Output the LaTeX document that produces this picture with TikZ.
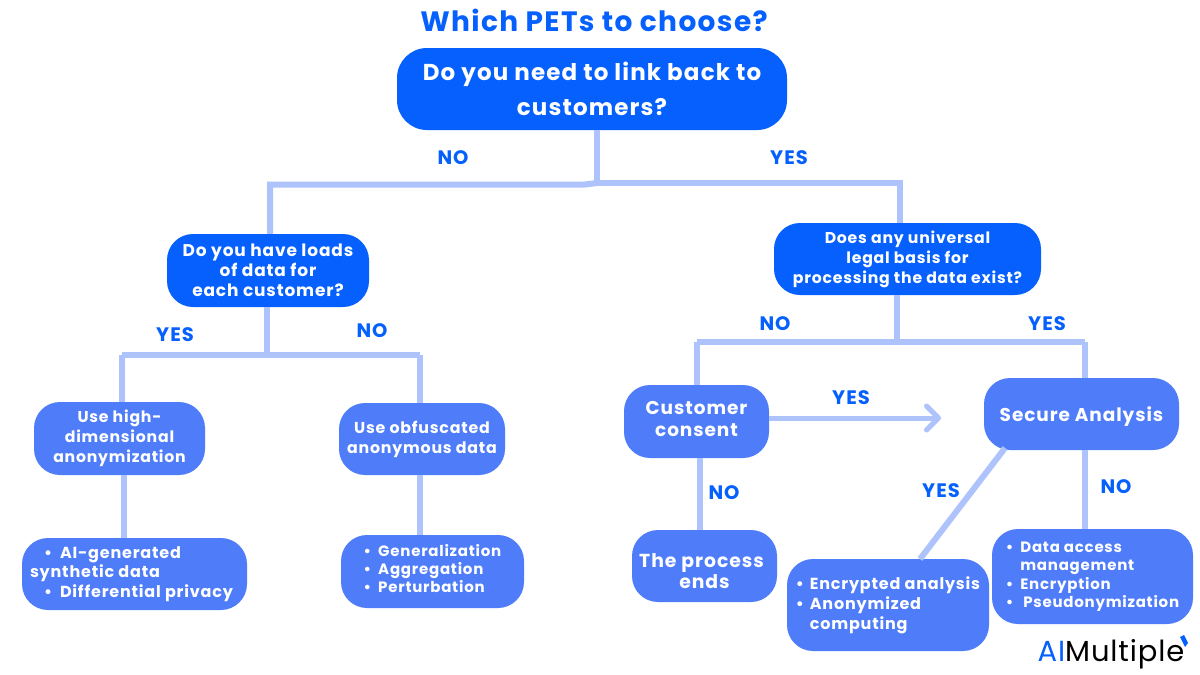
\documentclass[tikz,border=0pt]{standalone}
\usepackage{fontspec}
\setmainfont{Poppins}[LetterSpace=5]
\newfontfamily\logofont{Poppins}[LetterSpace=3]
\usetikzlibrary{arrows.meta}
\definecolor{deep}{HTML}{0560FD}
\definecolor{mid}{HTML}{4F7DFA}
\definecolor{wire}{HTML}{AEC3FB}
\tikzset{
  x=1pt,y=-1pt,
  box/.style={fill=#1,text=white,font=\bfseries\fontsize{16}{20}\selectfont,inner sep=0pt,align=center,rounded corners=26pt},
  wireline/.style={draw=wire,line width=6pt},
  ans/.style={text=deep,font=\bfseries\fontsize{19.5}{22}\selectfont,inner sep=0pt},
}
\newcommand{\tup}[1]{\rule[-#1pt]{0pt}{0pt}}
\newcommand{\tdn}[1]{\rule{0pt}{#1pt}}
\begin{document}
\begin{tikzpicture}
\useasboundingbox (0,0) rectangle (1200,675);
\fill[white] (0,0) rectangle (1200,675);
\coordinate (j1) at (597,183);
\coordinate (j1k) at (585,184.5);
\coordinate (j1l) at (270,184.5);
\coordinate (j1r) at (900,183);
\coordinate (j2) at (267,354.5);
\coordinate (j2l) at (122,354.5);
\coordinate (j2b) at (124,500);
\coordinate (j2r) at (420,354.5);
\coordinate (j3) at (897,342);
\coordinate (j3l) at (697,342);
\coordinate (j3r) at (1085,342);
\coordinate (tip) at (941,418);
\coordinate (s1) at (1005,448);
\coordinate (e1) at (920,559);
% boxes
\node[box=deep,minimum width=390pt,minimum height=82pt,rounded corners=30pt,font=\bfseries\fontsize{23}{35}\selectfont] (root) at (592,89) {Do you need to link back to\\customers?};
\node[box=deep,minimum width=202pt,minimum height=73pt,font=\bfseries\fontsize{17}{20}\selectfont] (left) at (268,270.5) {Do you have loads\\of data for\\each customer?};
\node[box=deep,minimum width=267pt,minimum height=72pt,font=\bfseries\fontsize{15.7}{20}\selectfont] (right) at (907.5,259) {Does any universal\\legal basis for\\processing the data exist?};
\node[box=mid,minimum width=171pt,minimum height=73pt,font=\bfseries\fontsize{15.7}{20}\selectfont] (high) at (119.5,438.5) {Use high-\\dimensional\\anonymization};
\node[box=mid,minimum width=166pt,minimum height=72pt,font=\bfseries\fontsize{15.8}{20}\selectfont] (obf) at (422,439) {Use obfuscated\\anonymous data};
\node[box=mid,minimum width=145pt,minimum height=73pt,font=\bfseries\fontsize{18.5}{22}\selectfont] (consent) at (696.5,421.5) {Customer\\consent\tup{6}};
\node[box=mid,minimum width=195pt,minimum height=72pt,font=\bfseries\fontsize{18.5}{22}\selectfont] (secure) at (1081.5,414) {\tdn{19}Secure Analysis};
\node[box=mid,minimum width=145pt,minimum height=72pt,font=\bfseries\fontsize{18.8}{21}\selectfont] (ends) at (704.5,566) {\tdn{24}The process\hspace*{6pt}\\ends};
\node[box=mid,minimum width=225pt,minimum height=72pt,align=left,font=\bfseries\fontsize{16}{19.5}\selectfont] (synth) at (134.5,574) {\hspace*{14pt}•\hspace*{8pt}AI-generated\\synthetic data\\\hspace*{14pt}•\hspace*{8pt}Differential privacy\hspace*{6pt}};
\node[box=mid,minimum width=183pt,minimum height=73pt,align=left,font=\bfseries\fontsize{15}{18}\selectfont] (gen) at (432.5,571.5) {•\hspace*{7pt}Generalization\\•\hspace*{7pt}Aggregation\\•\hspace*{7pt}Perturbation\tup{6}};
\node[box=mid,minimum width=202pt,minimum height=92pt,align=left,font=\bfseries\fontsize{16}{20}\selectfont] (enc) at (888,605) {•\hspace*{6pt}Encrypted analysis\\•\hspace*{6pt}Anonymized\\\hspace*{14pt}computing};
\node[box=mid,minimum width=201pt,minimum height=95pt,align=left,font=\bfseries\fontsize{15}{18.5}\selectfont] (access) at (1092.5,576.5) {•\hspace*{7pt}Data access\\\hspace*{14.5pt}management\\•\hspace*{7pt}Encryption\\•\hspace*{10pt}Pseudonymization};
% connectors
\draw[wireline] (root.south -| j1) -- (j1);
\draw[wireline] (j1) -- (j1r) -- (right.north -| j1r);
\draw[wireline] (j1) -- (j1k) -- (j1l) -- (left.north -| j1l);
\draw[wireline] (left.south -| j2) -- (j2);
\draw[wireline] (j2l) -- (j2r);
\draw[wireline] (j2l) -- (high.north -| j2l);
\draw[wireline] (j2r) -- (obf.north -| j2r);
\draw[wireline] (high.south -| j2b) -- (synth.north -| j2b);
\draw[wireline] (obf.south -| j2r) -- (gen.north -| j2r);
\draw[wireline] (right.south -| j3) -- (j3);
\draw[wireline] (j3l) -- (j3r);
\draw[wireline] (j3l) -- (consent.north -| j3l);
\draw[wireline] (j3r) -- (secure.north -| j3r);
\draw[wireline] ([xshift=-5pt]ends.north |- consent.south) -- ([xshift=-5pt]ends.north);
\draw[draw=wire,line width=5pt,-{Straight Barb[length=12pt,width=24pt,line width=5pt,round]}] (consent.east |- tip) -- (tip);
\draw[wireline] (s1) -- (e1);
\draw[wireline] (secure.south -| j3r) -- (access.north -| j3r);
% titles and answers
\node[text=deep,font=\bfseries\fontsize{28}{30}\selectfont,inner sep=0pt] (title) at (594,20) {Which PETs to choose?};
\node[ans] (a1) at (453,157.5) {NO};
\node[ans] (a2) at (789,157.5) {YES};
\node[ans] (a3) at (175,334.5) {YES};
\node[ans] (a4) at (372,330.5) {NO};
\node[ans] (a5) at (775,323.5) {NO};
\node[ans] (a6) at (1047,323.5) {YES};
\node[ans] (a7) at (851,397.5) {YES};
\node[ans] (a8) at (724,492.5) {NO};
\node[ans] (a9) at (941,490.5) {YES};
\node[ans] (a10) at (1116,486.5) {NO};
% logo
\node[inner sep=0pt,font=\logofont\fontsize{29}{30}\selectfont] (logo) at (1111,654.5) {\textcolor{deep}{AI}Multiple};
\fill[deep] (1180,637) -- (1184,635) -- (1188,643) -- (1185,647) -- cycle;
\end{tikzpicture}
\end{document}
